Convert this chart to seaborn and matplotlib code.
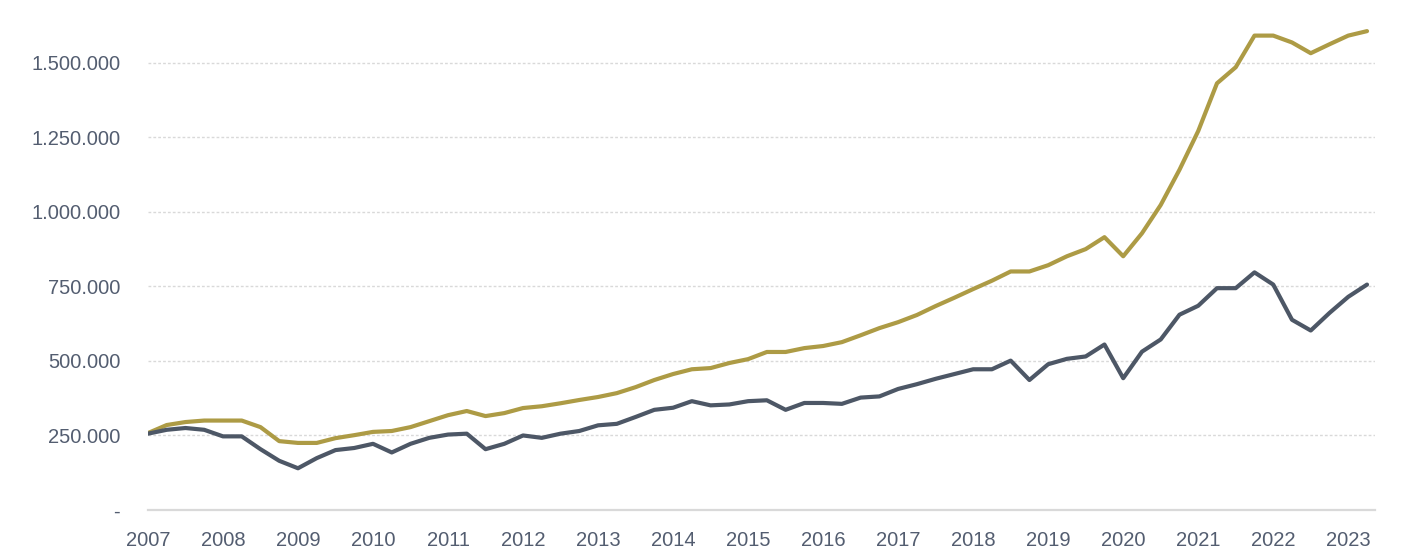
import numpy as np
import pandas as pd
import matplotlib.pyplot as plt
import matplotlib.ticker as mticker
import seaborn as sns

# quarterly values, 2007 Q1 .. 2023 Q2
years = list(range(2007, 2024))

gold_values = [
    258000, 285000, 295000, 300000,
    300000, 300000, 278000, 231000,
    225000, 225000, 241000, 251000,
    262000, 265000, 278000, 298000,
    318000, 332000, 315000, 325000,
    342000, 348000, 358000, 369000,
    379000, 392000, 412000, 436000,
    456000, 472000, 476000, 493000,
    506000, 530000, 530000, 543000,
    550000, 563000, 586000, 610000,
    630000, 654000, 684000, 712000,
    741000, 769000, 800000, 800000,
    821000, 851000, 875000, 915000,
    851000, 928000, 1023000, 1141000,
    1271000, 1431000, 1485000, 1591000,
    1591000, 1568000, 1532000, 1562000,
    1591000, 1606000,
]

slate_values = [
    256000, 269000, 275000, 269000,
    247000, 247000, 204000, 165000,
    140000, 174000, 201000, 208000,
    222000, 193000, 222000, 242000,
    253000, 256000, 204000, 222000,
    250000, 242000, 256000, 265000,
    284000, 289000, 312000, 336000,
    343000, 365000, 351000, 354000,
    365000, 368000, 336000, 359000,
    359000, 356000, 377000, 381000,
    406000, 422000, 440000, 456000,
    472000, 472000, 501000, 436000,
    489000, 507000, 515000, 555000,
    442000, 531000, 572000, 655000,
    685000, 744000, 744000, 797000,
    756000, 638000, 602000, 661000,
    715000, 756000,
]

GOLD = "#AD9B45"
SLATE = "#4D5766"
TEXT = "#535D70"
GRID = "#D9D9D9"

n = len(gold_values)
t = [2007 + i / 4 for i in range(n)]
df = pd.DataFrame({
    "t": t * 2,
    "value": gold_values + slate_values,
    "series": ["gold"] * n + ["slate"] * n,
})

sns.set_theme(style="white")
plt.rcParams["font.family"] = ["Liberation Sans", "DejaVu Sans"]

fig = plt.figure(figsize=(14.01, 5.54), dpi=100)
ax = fig.add_axes([0.1056, 0.0794, 0.8755, 0.915])

sns.lineplot(data=df, x="t", y="value", hue="series",
             palette={"gold": GOLD, "slate": SLATE},
             linewidth=3.0, legend=False, ax=ax)

ax.set_xlim(2007, 2023.35)
ax.set_ylim(0, 1700000)
ax.set_xticks(years)
ax.set_xticklabels([str(y) for y in years])
ax.set_yticks([0, 250000, 500000, 750000, 1000000, 1250000, 1500000])


def fmt_dots(v, _=None):
    if v == 0:
        return "-"
    return f"{int(v):,}".replace(",", ".")


ax.yaxis.set_major_formatter(mticker.FuncFormatter(fmt_dots))
ax.set_xlabel("")
ax.set_ylabel("")

for s in ["top", "right", "left"]:
    ax.spines[s].set_visible(False)
ax.spines["bottom"].set_color(GRID)
ax.spines["bottom"].set_linewidth(1.6)

ax.yaxis.grid(True, color=GRID, linestyle=(0, (2, 1.5)), linewidth=1.0)
ax.set_axisbelow(True)
ax.tick_params(axis="both", length=0, labelsize=14.5, colors=TEXT)
ax.tick_params(axis="y", pad=20)
ax.tick_params(axis="x", pad=15)

plt.savefig("out.png", dpi=100, facecolor="white")
